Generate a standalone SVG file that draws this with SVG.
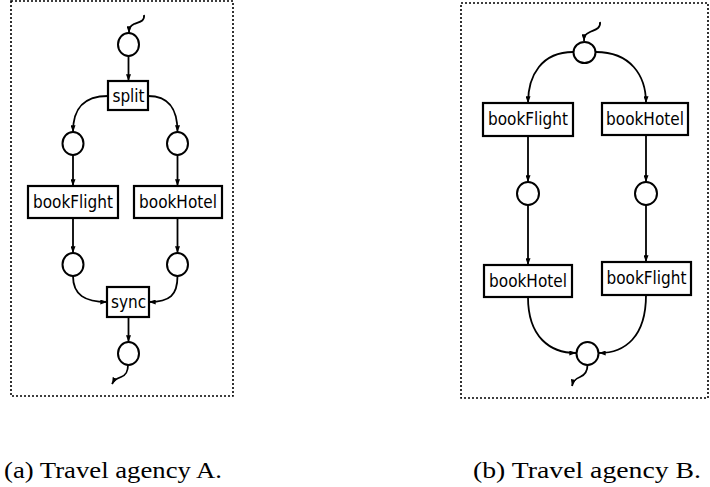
<svg xmlns="http://www.w3.org/2000/svg" width="710" height="487" viewBox="0 0 710 487">
<style>
.frame{fill:none;stroke:#000;stroke-width:1.6;stroke-dasharray:2,2}
.place{fill:#fff;stroke:#000;stroke-width:2}
.box{fill:#fff;stroke:#000;stroke-width:2.2}
.lbl{font-family:"DejaVu Sans Condensed","DejaVu Sans",Verdana,sans-serif;font-stretch:condensed;font-size:17px;text-anchor:middle;fill:#000}
.arc{fill:none;stroke:#000;stroke-width:1.8;marker-end:url(#ah)}
.cap{font-family:"Liberation Serif","Times New Roman",serif;font-size:24px;fill:#000}
</style>
<defs>
<marker id="ah" viewBox="0 0 8 6" refX="8" refY="3" markerWidth="7" markerHeight="5" markerUnits="userSpaceOnUse" orient="auto">
<path d="M0,0 L8,3 L0,6 z" fill="#000"/>
</marker>
</defs>
<rect class="frame" x="11" y="1" width="222" height="395"/>
<rect class="frame" x="461" y="3" width="247" height="395"/>
<g id="connectors">
<path class="arc" d="M144,15 C145,22 138,22 134,24 C130,26 129,28 129,33"/>
<path class="arc" d="M128.5,56 L128.5,81"/>
<path class="arc" d="M108,96 C82,96 73,110 73,132"/>
<path class="arc" d="M148,96 C170,96 177.5,110 177.5,132"/>
<path class="arc" d="M73,155 L73,186"/>
<path class="arc" d="M177.5,155 L177.5,186"/>
<path class="arc" d="M73,218 L73,253"/>
<path class="arc" d="M177.5,218 L177.5,253"/>
<path class="arc" d="M73,276 C73,295 85,302 107,302"/>
<path class="arc" d="M177.5,276 C177.5,295 170,302 149,302"/>
<path class="arc" d="M128.5,317 L128.5,342"/>
<path class="arc" d="M128,365 C128,372 126,375 121,377 C116,379 114,380 112,384"/>
<path class="arc" d="M600,22 C601,29 594,30 590,32 C586,34 584,35 584,41"/>
<path class="arc" d="M573,52 C542,52 528,75 528,103"/>
<path class="arc" d="M596,52 C630,52 646,75 646,103"/>
<path class="arc" d="M528,136 L528,182"/>
<path class="arc" d="M646,135 L646,182"/>
<path class="arc" d="M528,205 L528,265"/>
<path class="arc" d="M646,205 L646,262"/>
<path class="arc" d="M528,297 C528,337 550,353 576,353"/>
<path class="arc" d="M646,295 C646,337 625,353 599,353"/>
<path class="arc" d="M587.5,365 C587.5,372 585,375 580,377 C575,379 573,381 572,386"/>
</g>
<g id="a-p0"><ellipse class="place" cx="128.5" cy="44.5" rx="10.5" ry="11.5"/></g>
<g id="a-split"><rect class="box" x="108" y="81" width="40" height="29"/><text class="lbl" x="128.5" y="102">split</text></g>
<g id="a-p1"><ellipse class="place" cx="73" cy="143.5" rx="10.5" ry="11.5"/></g>
<g id="a-p2"><ellipse class="place" cx="177.5" cy="143.5" rx="10.5" ry="11.5"/></g>
<g id="a-bookFlight"><rect class="box" x="28" y="186" width="90" height="32"/><text class="lbl" x="73" y="208">bookFlight</text></g>
<g id="a-bookHotel"><rect class="box" x="134" y="186" width="88" height="32"/><text class="lbl" x="178" y="208">bookHotel</text></g>
<g id="a-p3"><ellipse class="place" cx="73" cy="264.5" rx="10.5" ry="11.5"/></g>
<g id="a-p4"><ellipse class="place" cx="177.5" cy="264.5" rx="10.5" ry="11.5"/></g>
<g id="a-sync"><rect class="box" x="107" y="287" width="42" height="30"/><text class="lbl" x="128.5" y="308">sync</text></g>
<g id="a-p5"><ellipse class="place" cx="128.5" cy="353.5" rx="10.5" ry="11.5"/></g>
<g id="b-p0"><ellipse class="place" cx="584.5" cy="52.5" rx="11" ry="10.5"/></g>
<g id="b-bookFlight1"><rect class="box" x="483" y="103" width="90" height="33"/><text class="lbl" x="528" y="125">bookFlight</text></g>
<g id="b-bookHotel1"><rect class="box" x="602" y="103" width="86" height="32"/><text class="lbl" x="645" y="124.5">bookHotel</text></g>
<g id="b-p1"><ellipse class="place" cx="528" cy="193.5" rx="11" ry="11.5"/></g>
<g id="b-p2"><ellipse class="place" cx="646" cy="193.5" rx="11" ry="11.5"/></g>
<g id="b-bookHotel2"><rect class="box" x="484" y="265" width="88" height="32"/><text class="lbl" x="528" y="287">bookHotel</text></g>
<g id="b-bookFlight2"><rect class="box" x="602" y="262" width="89" height="33"/><text class="lbl" x="646.5" y="284">bookFlight</text></g>
<g id="b-p3"><ellipse class="place" cx="587.5" cy="353.5" rx="11" ry="11.5"/></g>
<text class="cap" x="4" y="478" textLength="218" lengthAdjust="spacingAndGlyphs">(a) Travel agency A.</text>
<text class="cap" x="473" y="478" textLength="228" lengthAdjust="spacingAndGlyphs">(b) Travel agency B.</text>
</svg>
